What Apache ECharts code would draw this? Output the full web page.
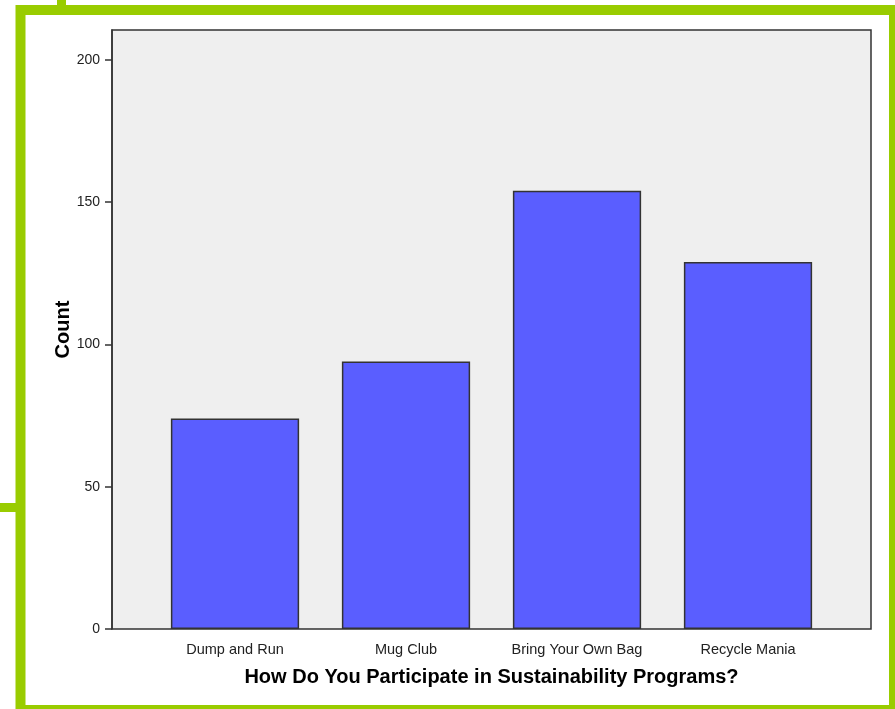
<!DOCTYPE html>
<html>
<head>
<meta charset="utf-8">
<script src="https://cdn.jsdelivr.net/npm/echarts@6/dist/echarts.min.js"></script>
<style>
html,body{margin:0;padding:0;background:#fff;}
#main{width:895px;height:709px;}
</style>
</head>
<body>
<div id="main"></div>
<script>
const categories = ['Dump and Run', 'Mug Club', 'Bring Your Own Bag', 'Recycle Mania'];
const counts = [74, 94, 154, 129];
const yTicks = [0, 50, 100, 150, 200];
const xTitle = 'How Do You Participate in Sustainability Programs?';
const yTitle = 'Count';

const font = 'Arial, "Liberation Sans", sans-serif';
const chart = echarts.init(document.getElementById('main'), null, {renderer: 'canvas'});
chart.setOption({
  animation: false,
  backgroundColor: '#fff',
  grid: [
    {left: 112, right: 24, top: 30, bottom: 80, show: true, backgroundColor: '#efefef', borderColor: '#333', borderWidth: 1.5},
    {left: 149.5, right: 61.5, top: 30, bottom: 80}
  ],
  xAxis: [
    {gridIndex: 0, type: 'value', show: false, min: 0, max: 1},
    {
      gridIndex: 1, type: 'category', data: categories, boundaryGap: true,
      axisLine: {show: false}, axisTick: {show: false},
      axisLabel: {color: '#222', fontSize: 14.5, fontFamily: font, margin: 13},
      name: xTitle, nameLocation: 'middle', nameGap: 38, nameMoveOverlap: false,
      nameTextStyle: {fontSize: 20, fontWeight: 'bold', fontFamily: font, color: '#000'}
    }
  ],
  yAxis: [
    {gridIndex: 0, type: 'value', show: false, min: 0, max: 1},
    {
      gridIndex: 1, type: 'value', min: 0, max: 210.5, interval: 50, offset: 37.5,
      axisLine: {show: true, lineStyle: {color: '#333', width: 1.5}},
      axisTick: {show: true, length: 7, lineStyle: {color: '#333', width: 1.5}},
      splitLine: {show: false},
      axisLabel: {color: '#222', fontSize: 14, fontFamily: font, margin: 12, showMaxLabel: false,
        formatter: v => yTicks.includes(v) ? String(v) : ''},
      name: yTitle, nameLocation: 'middle', nameGap: 39, nameRotate: 90, nameMoveOverlap: false,
      nameTextStyle: {fontSize: 20, fontWeight: 'bold', fontFamily: font, color: '#000'}
    }
  ],
  series: [{
    type: 'bar', xAxisIndex: 1, yAxisIndex: 1, data: counts, barWidth: '75%',
    itemStyle: {color: '#5a5eff', borderColor: '#333', borderWidth: 1.5}
  }],
  graphic: [
    {type: 'rect', shape: {x: 20.5, y: 10, width: 873.5, height: 700}, style: {fill: null, stroke: '#99cc00', lineWidth: 10}, silent: true},
    {type: 'rect', shape: {x: 57, y: 0, width: 9, height: 6}, style: {fill: '#99cc00'}, silent: true},
    {type: 'rect', shape: {x: 0, y: 503, width: 17, height: 9}, style: {fill: '#99cc00'}, silent: true}
  ]
});
</script>
</body>
</html>
